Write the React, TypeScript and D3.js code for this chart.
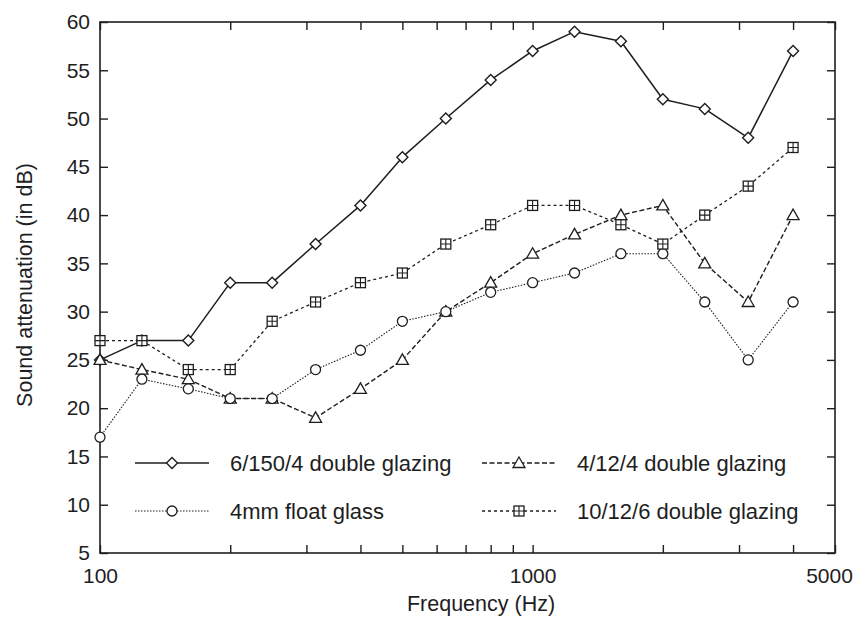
import * as d3 from "d3";
import React, { useEffect, useRef } from "react";

// one-third octave band centre frequencies (Hz)
const freqs = [100, 125, 160, 200, 250, 315, 400, 500, 630, 800, 1000, 1250, 1600, 2000, 2500, 3150, 4000];

// sound attenuation (dB)
const glazing6150 = [25, 27, 27, 33, 33, 37, 41, 46, 50, 54, 57, 59, 58, 52, 51, 48, 57];
const glazing4124 = [25, 24, 23, 21, 21, 19, 22, 25, 30, 33, 36, 38, 40, 41, 35, 31, 40];
const floatGlass4 = [17, 23, 22, 21, 21, 24, 26, 29, 30, 32, 33, 34, 36, 36, 31, 25, 31];
const glazing10126 = [27, 27, 24, 24, 29, 31, 33, 34, 37, 39, 41, 41, 39, 37, 40, 43, 47];

const yTicks = [5, 10, 15, 20, 25, 30, 35, 40, 45, 50, 55, 60];
const xTicks = [100, 200, 300, 400, 500, 600, 700, 800, 900, 1000, 2000, 3000, 4000, 5000];
const xLabels = [100, 1000, 5000];

const series = [
  { name: "6/150/4 double glazing", values: glazing6150, marker: "diamond", dash: null, width: 1.5 },
  { name: "4/12/4 double glazing", values: glazing4124, marker: "triangle", dash: "5,2.5", width: 1.4 },
  { name: "4mm float glass", values: floatGlass4, marker: "circle", dash: "1.5,1.5", width: 1.1 },
  { name: "10/12/6 double glazing", values: glazing10126, marker: "square", dash: "3,3", width: 1.3 },
];

const ink = "#1e1e1e";
const font = "'Liberation Sans', Arial, Helvetica, sans-serif";

const drawMarker = (g, type, x, y) => {
  const s = 5;
  if (type === "diamond") {
    g.append("path")
      .attr("d", `M${x},${y - 5.5}L${x + 5.5},${y}L${x},${y + 5.5}L${x - 5.5},${y}Z`)
      .attr("fill", "white").attr("stroke", ink).attr("stroke-width", 1.4);
  } else if (type === "circle") {
    g.append("circle").attr("cx", x).attr("cy", y).attr("r", s)
      .attr("fill", "white").attr("stroke", ink).attr("stroke-width", 1.3);
  } else if (type === "triangle") {
    g.append("path")
      .attr("d", `M${x},${y - 6}L${x + 6},${y + 4.5}L${x - 6},${y + 4.5}Z`)
      .attr("fill", "white").attr("stroke", ink).attr("stroke-width", 1.3);
  } else {
    g.append("rect").attr("x", x - s).attr("y", y - s).attr("width", 2 * s).attr("height", 2 * s)
      .attr("fill", "white").attr("stroke", ink).attr("stroke-width", 1.3);
    g.append("path")
      .attr("d", `M${x - s},${y}H${x + s}M${x},${y - s}V${y + s}`)
      .attr("stroke", ink).attr("stroke-width", 1.1);
  }
};

const Chart = () => {
  const width = 856;
  const height = 618;
  const margin = { left: 100, top: 22, right: 21, bottom: 65 };
  const chartWidth = width - margin.left - margin.right;
  const chartHeight = height - margin.top - margin.bottom;
  const ref = useRef(null);

  useEffect(() => {
    const svg = d3.select(ref.current);
    svg.selectAll("*").remove();

    const x = d3.scaleLog().domain([100, 5000]).range([0, chartWidth]);
    const y = d3.scaleLinear().domain([5, 60]).range([chartHeight, 0]);

    const g = svg.append("g").attr("transform", `translate(${margin.left},${margin.top})`);

    const styleAxis = (sel) => {
      sel.select(".domain").remove();
      sel.selectAll("line").attr("stroke", ink).attr("stroke-width", 1.4);
      sel.selectAll("text").attr("fill", ink).style("font-family", font).style("font-size", "21px");
    };

    g.append("g")
      .call(d3.axisLeft(y).tickValues(yTicks).tickSizeInner(-8).tickSizeOuter(0).tickPadding(10))
      .call(styleAxis);
    g.append("g")
      .attr("transform", `translate(${chartWidth},0)`)
      .call(d3.axisRight(y).tickValues(yTicks).tickSizeInner(-8).tickSizeOuter(0).tickFormat(() => ""))
      .call(styleAxis);
    const xAxisG = g.append("g")
      .attr("transform", `translate(0,${chartHeight})`)
      .call(
        d3.axisBottom(x).tickValues(xTicks).tickSizeInner(-8).tickSizeOuter(0).tickPadding(15)
          .tickFormat((d) => (xLabels.includes(d) ? String(d) : ""))
      )
      .call(styleAxis);
    // keep the last label inside the page
    xAxisG.selectAll("text").filter((d) => d === 5000).attr("dx", -6);

    g.append("g")
      .call(d3.axisTop(x).tickValues(xTicks).tickSizeInner(-8).tickSizeOuter(0).tickFormat(() => ""))
      .call(styleAxis);

    g.append("rect")
      .attr("width", chartWidth).attr("height", chartHeight)
      .attr("fill", "none").attr("stroke", ink).attr("stroke-width", 1.6);

    const line = d3.line().x((d) => x(d[0])).y((d) => y(d[1]));

    series.forEach((s) => {
      const pts = freqs.map((f, i) => [f, s.values[i]]);
      g.append("path")
        .attr("d", line(pts))
        .attr("fill", "none")
        .attr("stroke", ink)
        .attr("stroke-width", s.width)
        .attr("stroke-linejoin", "round")
        .attr("stroke-dasharray", s.dash);
    });
    series.forEach((s) => {
      freqs.forEach((f, i) => drawMarker(g, s.marker, x(f), y(s.values[i])));
    });

    // legend
    const legendPos = [
      { lx: 135, tx: 230, y: 463 },
      { lx: 482, tx: 577, y: 463 },
      { lx: 135, tx: 230, y: 511 },
      { lx: 482, tx: 577, y: 511 },
    ];
    series.forEach((s, i) => {
      const p = legendPos[i];
      const lg = svg.append("g");
      lg.append("line")
        .attr("x1", p.lx).attr("x2", p.lx + 74).attr("y1", p.y).attr("y2", p.y)
        .attr("stroke", ink).attr("stroke-width", s.width).attr("stroke-dasharray", s.dash);
      drawMarker(lg, s.marker, p.lx + 37, p.y);
      lg.append("text")
        .attr("x", p.tx).attr("y", p.y).attr("dy", "0.35em")
        .attr("fill", ink).style("font-family", font).style("font-size", "22px")
        .text(s.name);
    });

    svg.append("text")
      .attr("transform", `translate(32,285) rotate(-90)`)
      .attr("text-anchor", "middle")
      .attr("fill", ink).style("font-family", font).style("font-size", "21.5px")
      .text("Sound attenuation (in dB)");

    svg.append("text")
      .attr("x", 481).attr("y", 611)
      .attr("text-anchor", "middle")
      .attr("fill", ink).style("font-family", font).style("font-size", "21.5px")
      .text("Frequency (Hz)");
  }, []);

  return (
    <svg
      ref={ref}
      width={width}
      height={height}
      style={{ position: "absolute", left: 0, top: 0, background: "white" }}
    ></svg>
  );
};

export default function App() {
  return <Chart />;
}
